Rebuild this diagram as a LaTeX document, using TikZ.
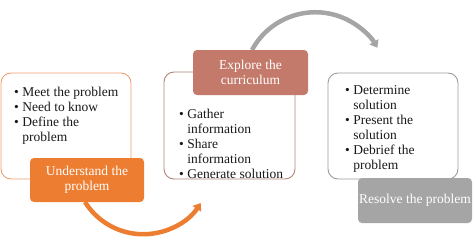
\documentclass[tikz,border=0pt]{standalone}
\usepackage{fontspec}
\setmainfont{Liberation Serif}
\usetikzlibrary{arrows.meta}
\definecolor{orng}{HTML}{ED7D31}
\definecolor{rose}{HTML}{C47A6B}
\definecolor{gry}{HTML}{A5A5A5}
\definecolor{orngline}{HTML}{F0A070}
\definecolor{roseline}{HTML}{B0857C}
\definecolor{gryline}{HTML}{9C9C9C}
\newcommand\blist[1]{\begin{tabular}{@{}l@{\hspace{3.5pt}}l@{}}#1\end{tabular}}
\tikzset{
  panel/.style={draw, line width=0.9pt, rounded corners=10pt, fill=white, inner sep=0pt},
  lab/.style={rounded corners=4pt, text=white, align=center, inner sep=0pt,
    font=\fontsize{13.5}{15}\selectfont, minimum height=45pt},
  blt/.style={anchor=west, inner sep=0pt, font=\fontsize{13.5}{15}\selectfont, text=black!90},
  flow/.style={line width=4.5pt, -{Triangle[length=7pt,width=10pt]}}
}
\begin{document}
\begin{tikzpicture}[x=1pt,y=1pt]
\useasboundingbox (0,0) rectangle (474,247);
% panels
\node[panel, draw=orngline, minimum width=130pt, minimum height=106pt] (p1) at (66,121) {};
\node[panel, draw=roseline, minimum width=131pt, minimum height=107pt] (p2) at (229.5,121.5) {};
\node[panel, draw=gryline, minimum width=130pt, minimum height=106pt] (p3) at (393,121) {};
% flow arrows
\coordinate (a1) at (85,45);
\draw[flow, orng] (a1) arc[start angle=212, end angle=327, radius=68.6];
\coordinate (a2) at (252,197);
\draw[flow, gry] (a2) arc[start angle=151.6, end angle=30.4, radius=72];
% labels
\node[lab, fill=orng, minimum width=114pt, minimum height=44pt] (l1) at (87,67) {Understand the\\problem};
\node[lab, fill=rose, minimum width=115pt] (l2) at (250.5,174.5) {Explore the\\curriculum};
\node[lab, fill=gry, minimum width=114pt] (l3) at (415,46.5) {Resolve the problem};
% bullet lists
\node[blt] (t1) at (14,131) {\blist{\textbullet & Meet the problem\\ \textbullet & Need to know\\ \textbullet & Define the\\ & problem}};
\node[blt] (t2) at (179,102) {\blist{\textbullet & Gather\\ & information\\ \textbullet & Share\\ & information\\ \textbullet & Generate solution}};
\node[blt] (t3) at (345,118.5) {\blist{\textbullet & Determine\\ & solution\\ \textbullet & Present the\\ & solution\\ \textbullet & Debrief the\\ & problem}};
\end{tikzpicture}
\end{document}
